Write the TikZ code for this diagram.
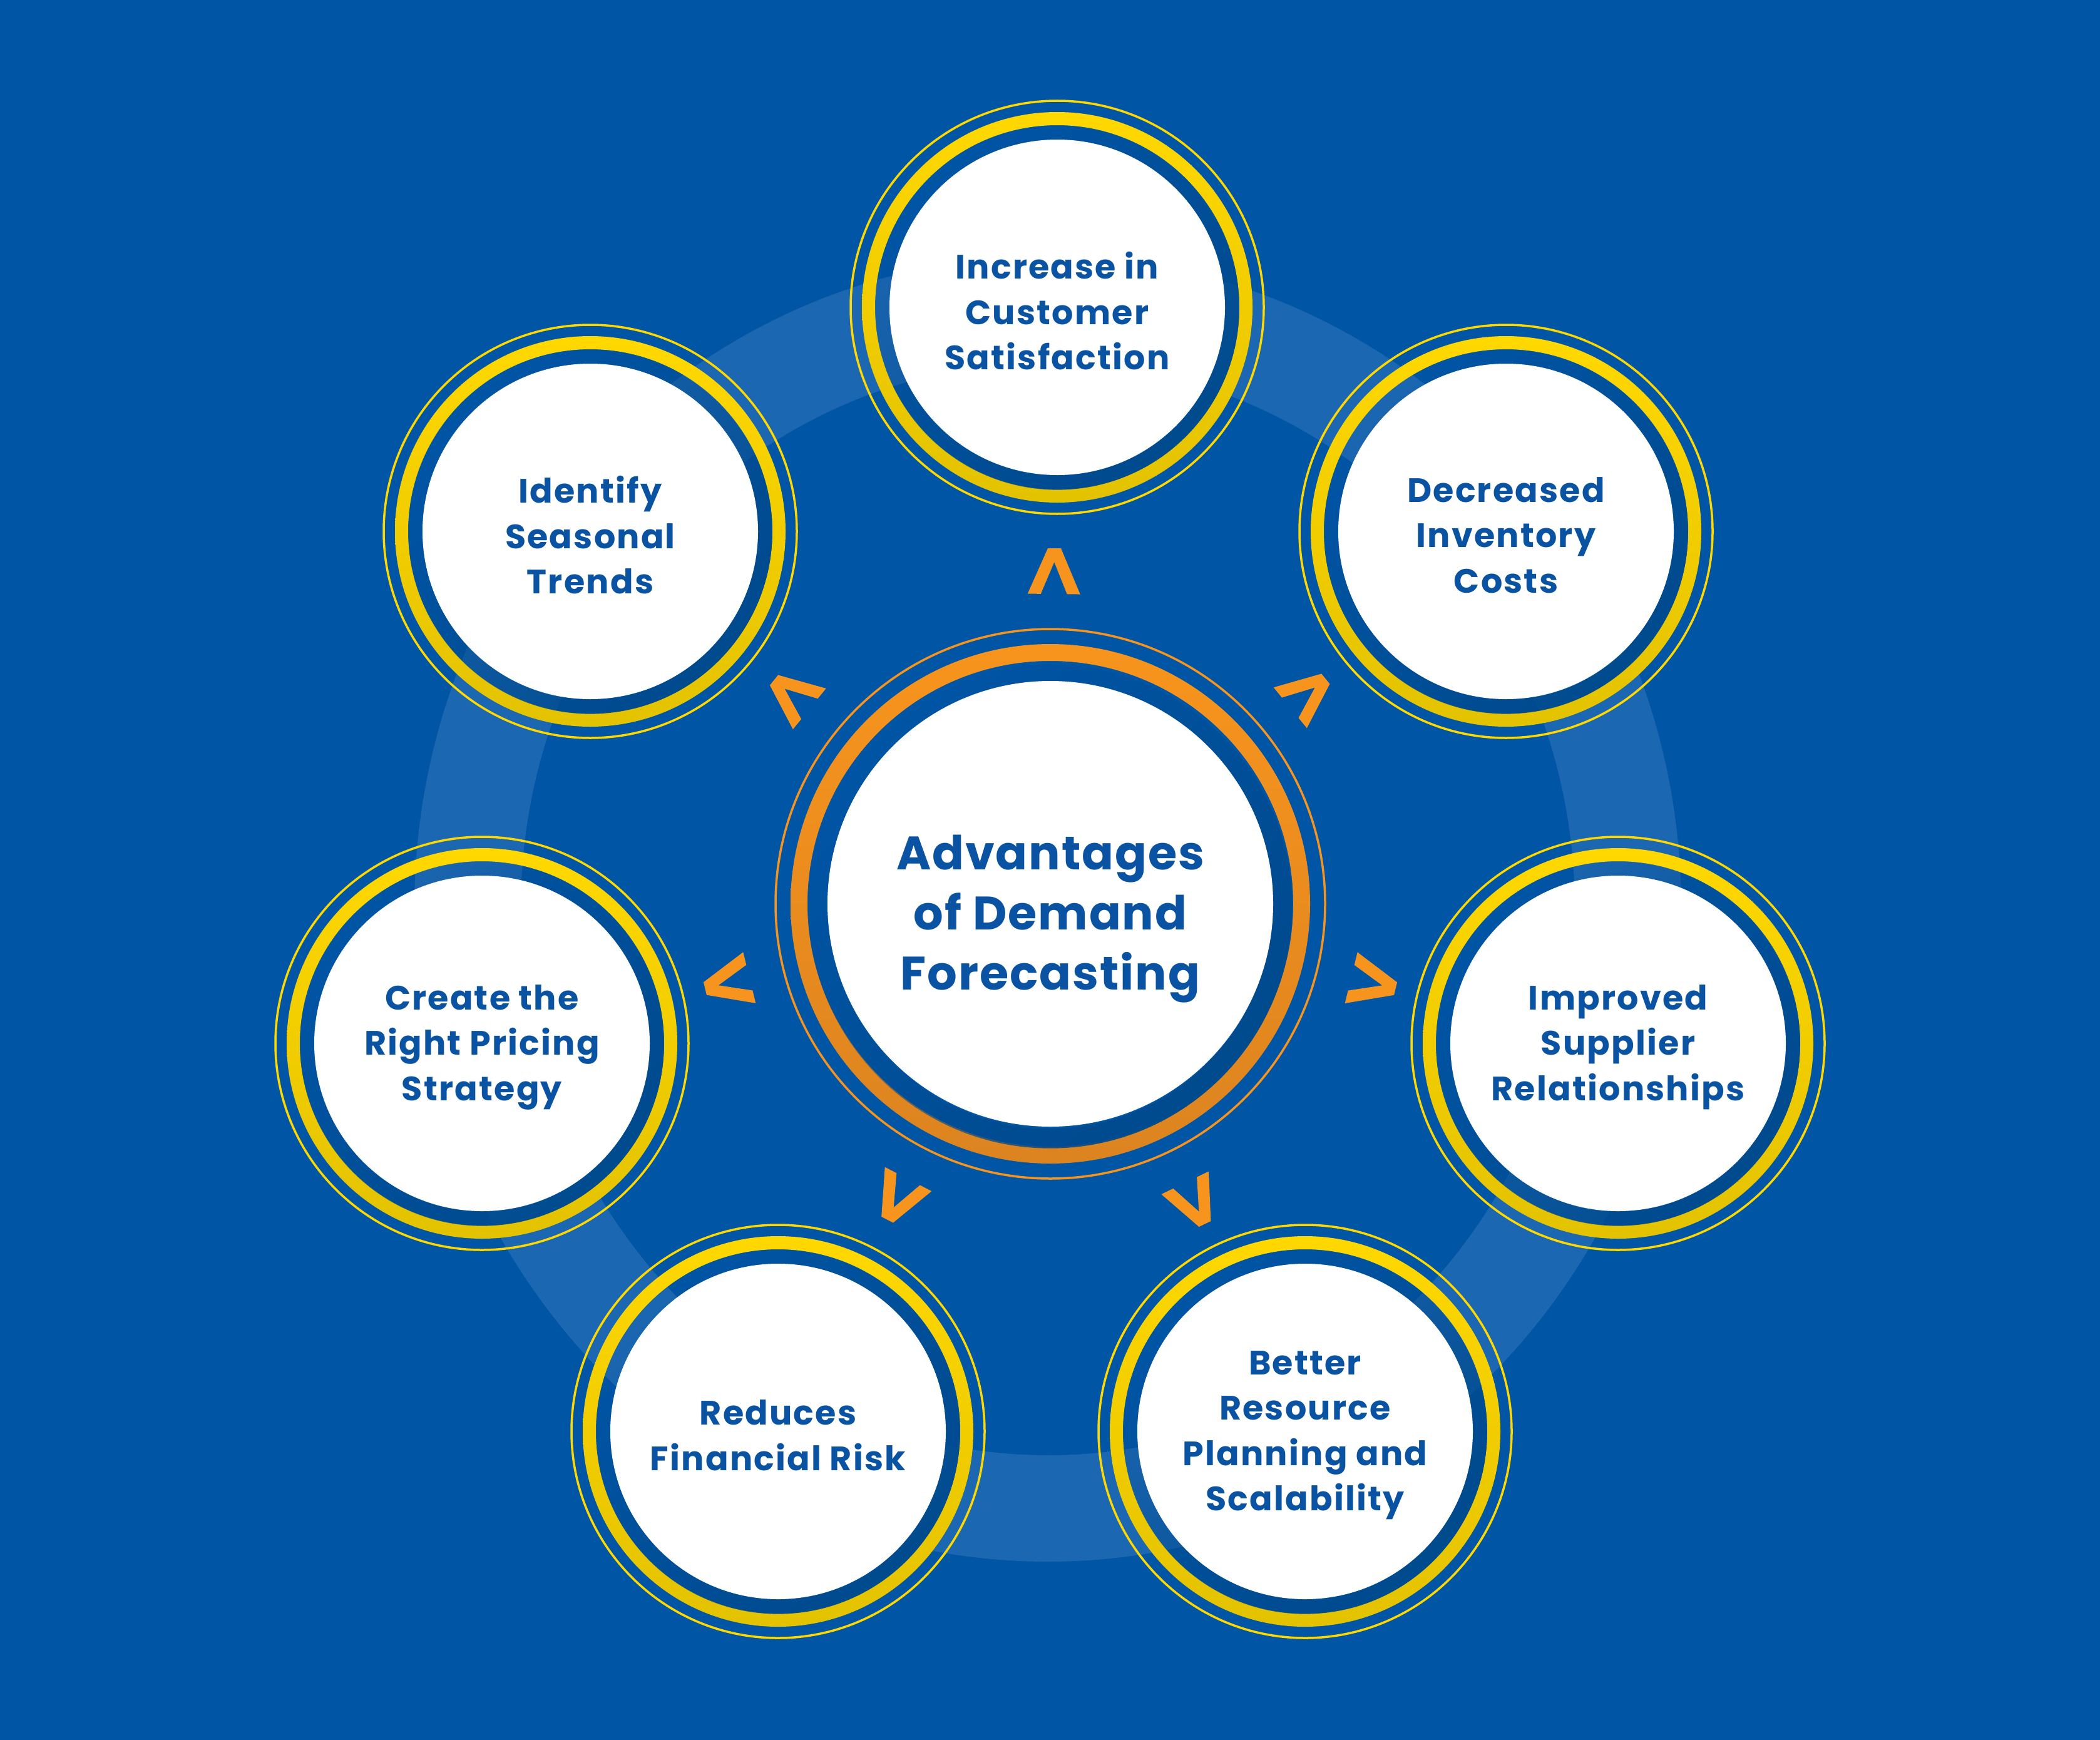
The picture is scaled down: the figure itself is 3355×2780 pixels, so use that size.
\documentclass[tikz,border=0pt]{standalone}
\usepackage{fontspec}
\setmainfont{Poppins}
\usetikzlibrary{calc,fadings}
\definecolor{bg}{HTML}{0055A5}
\definecolor{track}{HTML}{1C67B1}
\definecolor{ybright}{HTML}{FFD800}
\definecolor{ydark}{HTML}{E3C200}
\definecolor{obright}{HTML}{F7941D}
\definecolor{odark}{HTML}{DC8420}
\definecolor{txt}{HTML}{0A53A2}
\definecolor{shadowblue}{HTML}{004A8E}
\tikzfading[name=shadowfade, top color=transparent!100, middle color=transparent!100, bottom color=transparent!0]
\tikzset{
  disc/.style={circle, fill=white, inner sep=0pt, draw=none},
  lbl/.style={text=txt, font=\bfseries\fontsize{54}{72.5}\selectfont\addfontfeature{LetterSpace=4}, align=center, inner sep=0pt},
  ctext/.style={text=txt, font=\bfseries\fontsize{75}{96}\selectfont\addfontfeature{LetterSpace=2.5}, align=center, inner sep=0pt},
  chev/.style={fill=obright},
  thinyellow/.style={draw=ybright, line width=3.5pt},
  thinorange/.style={draw=obright, line width=3.5pt},
  ringshade/.style={even odd rule, top color=#1, middle color=#1, shading angle=45},
  gapshadow/.style={fill=shadowblue, even odd rule, path fading=shadowfade, fading angle=45},
}
\begin{document}
\begin{tikzpicture}[x=1pt,y=-1pt]
\fill[bg] (0,0) rectangle (3355,2780);
\useasboundingbox (0,0) rectangle (3355,2780);
% pale track
\draw[track, line width=170pt] (1674,1452) ellipse [x radius=927, y radius=958];
\coordinate (C) at (1678,1444);
\foreach \n/\x/\y/\t in {
  top/1689/491/{Increase in\\Customer\\Satisfaction},
  ur/2406/849/{Decreased\\Inventory\\Costs},
  r/2585/1667/{Improved\\Supplier\\Relationships},
  lr/2085/2287/{Better\\Resource\\Planning and\\Scalability},
  ll/1243/2287/{Reduces\\Financial Risk},
  l/770/1667/{Create the\\Right Pricing\\Strategy},
  ul/943/849/{Identify\\Seasonal\\Trends}}{
  \coordinate (\n-c) at (\x,\y);
  \coordinate (\n-b) at ($(C)!495pt!(\n-c)$);
  \coordinate (\n-a) at ($(C)!568pt!(\n-c)$);
  \coordinate (\n-k) at ($(C)!546pt!(\n-c)$);
  \fill[chev] ($(\n-a)!10.5pt!90:(\n-c)$) -- ($(\n-b)!42pt!90:(\n-c)$) -- ($(\n-b)!21pt!90:(\n-c)$) -- (\n-k)
     -- ($(\n-b)!21pt!-90:(\n-c)$) -- ($(\n-b)!42pt!-90:(\n-c)$) -- ($(\n-a)!10.5pt!-90:(\n-c)$) -- cycle;
  \draw[thinyellow] (\n-c) circle [radius=330];
  \shade[ringshade=ybright, bottom color=ydark] (\n-c) circle [radius=312] (\n-c) circle [radius=291];
  \fill[gapshadow] (\n-c) circle [radius=291] (\n-c) circle [radius=268];
  \node[disc, minimum size=536pt] (\n) at (\n-c) {};
  \node[lbl] (\n-t) at ($(\n-c)+(0,6)$) {\t};
}
% centre
\draw[thinorange] (C) circle [radius=439];
\shade[ringshade=obright, bottom color=odark] (C) circle [radius=415] (C) circle [radius=388];
\fill[gapshadow] (C) circle [radius=388] (C) circle [radius=356];
\node[disc, minimum size=712pt] (center) at (C) {};
\node[ctext] (center-t) at ($(C)+(0,24)$) {Advantages\\of Demand\\Forecasting};
\end{tikzpicture}
\end{document}
